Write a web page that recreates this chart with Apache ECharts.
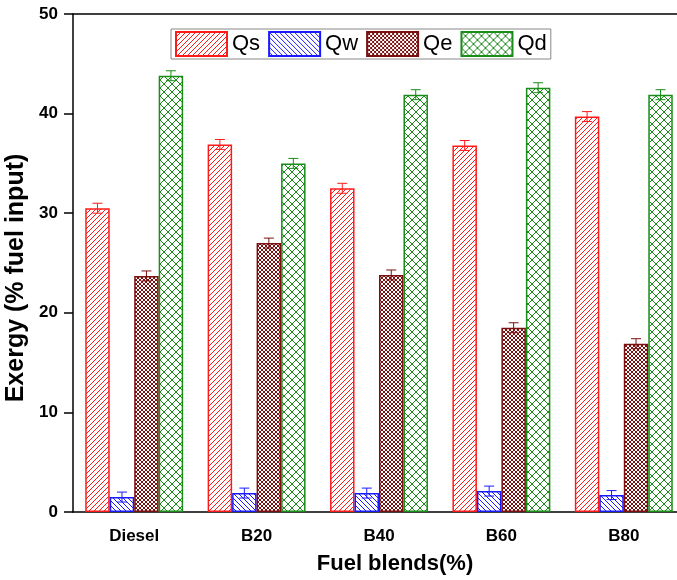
<!DOCTYPE html>
<html>
<head>
<meta charset="utf-8">
<script src="https://cdn.jsdelivr.net/npm/echarts@6/dist/echarts.min.js"></script>
<style>
  html, body { margin: 0; padding: 0; background: #fff; }
  #chart { width: 677px; height: 580px; }
</style>
</head>
<body>
<div id="chart"></div>
<script>
// Exergy distribution per fuel blend
const categories = ['Diesel', 'B20', 'B40', 'B60', 'B80'];
const seriesNames = ['Qs', 'Qw', 'Qe', 'Qd'];
const qs = [30.5, 36.9, 32.5, 36.8, 39.7];
const qw = [1.5, 1.9, 1.9, 2.1, 1.7];
const qe = [23.7, 27.0, 23.8, 18.5, 16.9];
const qd = [43.8, 35.0, 41.9, 42.6, 41.9];
const qsErr = [0.5, 0.5, 0.5, 0.5, 0.5];
const qwErr = [0.5, 0.5, 0.5, 0.5, 0.45];
const qeErr = [0.5, 0.5, 0.5, 0.5, 0.5];
const qdErr = [0.5, 0.5, 0.5, 0.5, 0.5];
const yTicks = { min: 0, max: 50, interval: 10 };

const colors = ['#ff1a1a', '#1a1aff', '#7a1010', '#1a8c1a'];
const FONT = "'Liberation Sans', Arial, sans-serif";

// Hatch fill built on a small tile canvas
function hatch(color, size, dirs, lw) {
  const c = document.createElement('canvas');
  c.width = c.height = size;
  const g = c.getContext('2d');
  g.fillStyle = '#fff';
  g.fillRect(0, 0, size, size);
  g.strokeStyle = color;
  g.lineWidth = lw;
  dirs.forEach(function (d) {
    for (let k = -1; k <= 1; k++) {
      const x0 = k * size;
      g.beginPath();
      if (d === '/') { g.moveTo(x0, size); g.lineTo(x0 + size, 0); }
      else { g.moveTo(x0, 0); g.lineTo(x0 + size, size); }
      g.stroke();
    }
  });
  return { image: c, repeat: 'repeat' };
}

const fills = [
  hatch(colors[0], 5, ['/'], 1),
  hatch(colors[1], 5, ['\\'], 1),
  hatch(colors[2], 4, ['/', '\\'], 1),
  hatch(colors[3], 8, ['/', '\\'], 1)
];

const values = [qs, qw, qe, qd];
const errors = [qsErr, qwErr, qeErr, qdErr];
const BAR_FRAC = 0.2;

const barSeries = seriesNames.map(function (name, i) {
  return {
    name: name,
    type: 'bar',
    data: values[i],
    barWidth: (BAR_FRAC * 100) + '%',
    barGap: '0%',
    itemStyle: { color: fills[i], borderColor: colors[i], borderWidth: 1.5 },
    emphasis: { disabled: true },
    z: 2
  };
});

// Error bars drawn as I-beams over each bar
const errSeries = seriesNames.map(function (name, i) {
  return {
    type: 'custom',
    name: name + ' error',
    data: values[i].map(function (v, j) { return [j, v, errors[i][j]]; }),
    z: 5,
    renderItem: function (params, api) {
      const idx = api.value(0);
      const v = api.value(1);
      const e = api.value(2);
      const band = api.size([1, 0])[0];
      const w = band * BAR_FRAC;
      const c = api.coord([idx, v]);
      const x = c[0] + (i - 1.5) * w;
      const yHi = api.coord([idx, v + e])[1];
      const yLo = api.coord([idx, v - e])[1];
      const cap = 5;
      const st = { stroke: colors[i], lineWidth: 1, fill: null };
      return {
        type: 'group',
        children: [
          { type: 'line', shape: { x1: x, y1: yHi, x2: x, y2: yLo }, style: st },
          { type: 'line', shape: { x1: x - cap, y1: yHi, x2: x + cap, y2: yHi }, style: st },
          { type: 'line', shape: { x1: x - cap, y1: yLo, x2: x + cap, y2: yLo }, style: st }
        ]
      };
    }
  };
});

const chart = echarts.init(document.getElementById('chart'), null, { renderer: 'canvas' });
chart.setOption({
  animation: false,
  backgroundColor: '#fff',
  grid: { left: 73, top: 14, right: -8, bottom: 68, containLabel: false, outerBoundsMode: 'none' },
  legend: {
    data: seriesNames,
    left: 171,
    top: 29,
    orient: 'horizontal',
    icon: 'rect',
    itemWidth: 51,
    itemHeight: 24,
    itemGap: 8,
    padding: [2, 4, 2, 4],
    borderColor: '#888',
    borderWidth: 1,
    selectedMode: false,
    textStyle: { fontFamily: FONT, fontSize: 22, color: '#000' }
  },
  xAxis: [{
    type: 'category',
    data: categories,
    boundaryGap: true,
    position: 'bottom',
    name: 'Fuel blends(%)',
    nameLocation: 'middle',
    nameGap: 41,
    nameTextStyle: { fontFamily: FONT, fontSize: 22, fontWeight: 'bold', color: '#000', padding: [0, 0, 0, 32] },
    axisLine: { lineStyle: { color: '#000', width: 1.5 } },
    axisTick: { alignWithLabel: true, length: 9, lineStyle: { color: '#000', width: 1.5 } },
    axisLabel: { fontFamily: FONT, fontSize: 17, fontWeight: 'bold', color: '#000', margin: 16 }
  }, {
    type: 'category',
    data: categories,
    position: 'top',
    axisLine: { lineStyle: { color: '#000', width: 1.5 } },
    axisTick: { show: false },
    axisLabel: { show: false }
  }],
  yAxis: {
    type: 'value',
    min: yTicks.min,
    max: yTicks.max,
    interval: yTicks.interval,
    name: 'Exergy (% fuel input)',
    nameLocation: 'middle',
    nameGap: 44,
    nameTextStyle: { fontFamily: FONT, fontSize: 25, fontWeight: 'bold', color: '#000', padding: [0, 30, 0, 0] },
    axisLine: { show: true, lineStyle: { color: '#000', width: 1.5 } },
    axisTick: { show: true, length: 9, lineStyle: { color: '#000', width: 1.5 } },
    axisLabel: { fontFamily: FONT, fontSize: 17, fontWeight: 'bold', color: '#000', margin: 15 },
    splitLine: { show: false }
  },
  series: barSeries.concat(errSeries)
});
</script>
</body>
</html>
